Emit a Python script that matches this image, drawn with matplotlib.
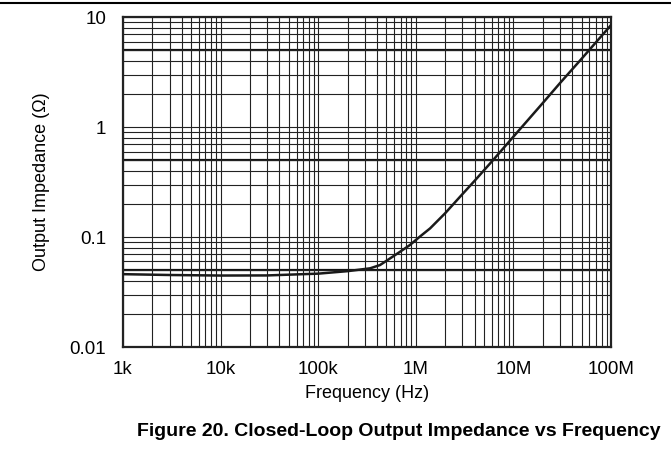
import matplotlib
matplotlib.use("Agg")
import matplotlib.pyplot as plt
from matplotlib.lines import Line2D
from matplotlib.ticker import FixedLocator, FixedFormatter, LogLocator, NullFormatter

plt.rcParams["font.family"] = ["Liberation Sans", "DejaVu Sans"]

# ---------- data ----------
freq_hz = [1e3, 3e3, 1e4, 3e4, 6.5e4, 1e5, 2e5, 3.4e5, 4.3e5, 5.45e5, 6.9e5,
           8.7e5, 1.1e6, 1.4e6, 2e6, 2.84e6, 4e6, 6.2e6, 1e7, 2e7, 3e7, 5e7, 1e8]
z_out = [0.046, 0.0452, 0.0447, 0.0448, 0.0459, 0.0465, 0.049, 0.052, 0.0557,
         0.064, 0.0736, 0.0847, 0.101, 0.120, 0.165, 0.233, 0.325, 0.503,
         0.82, 1.66, 2.52, 4.2, 8.5]

x_ticks = [1e3, 1e4, 1e5, 1e6, 1e7, 1e8]
x_labels = ["1k", "10k", "100k", "1M", "10M", "100M"]
y_ticks = [0.01, 0.1, 1, 10]
y_labels = ["0.01", "0.1", "1", "10"]
heavy_y = [0.05, 0.5, 5]

fig = plt.figure(figsize=(6.71, 4.57), dpi=100)
ax = fig.add_axes([0.1833, 0.2407, 0.7273, 0.7214])

ax.set_xscale("log")
ax.set_yscale("log")
ax.set_xlim(1e3, 1e8)
ax.set_ylim(0.01, 10)

ax.xaxis.set_major_locator(FixedLocator(x_ticks))
ax.xaxis.set_major_formatter(FixedFormatter(x_labels))
ax.yaxis.set_major_locator(FixedLocator(y_ticks))
ax.yaxis.set_major_formatter(FixedFormatter(y_labels))
for axis in (ax.xaxis, ax.yaxis):
    axis.set_minor_locator(LogLocator(base=10, subs=range(2, 10), numticks=20))
    axis.set_minor_formatter(NullFormatter())

ax.grid(True, which="both", color="#222222", linewidth=0.8)
for yv in heavy_y:
    ax.axhline(yv, color="#111111", linewidth=1.6, zorder=1.5)

ax.plot(freq_hz, z_out, color="#1a1a1a", linewidth=1.8, zorder=3)

ax.tick_params(which="both", length=0, labelsize=13.5)
ax.tick_params(axis="x", pad=10)
ax.tick_params(axis="y", pad=12)
for sp in ax.spines.values():
    sp.set_linewidth(1.6)
    sp.set_color("#222222")

ax.set_xlabel("Frequency (Hz)", fontsize=13, labelpad=5)
ax.set_ylabel("Output Impedance (Ω)", fontsize=13, labelpad=14)

fig.text(0.595, 1 - 432 / 457, "Figure 20. Closed-Loop Output Impedance vs Frequency",
         ha="center", va="center", fontsize=14, fontweight="bold")

# page separator at the very top
fig.add_artist(Line2D([0, 1], [1 - 3 / 457, 1 - 3 / 457], transform=fig.transFigure,
                      color="black", linewidth=1.5))

fig.savefig("out.png", dpi=100)
